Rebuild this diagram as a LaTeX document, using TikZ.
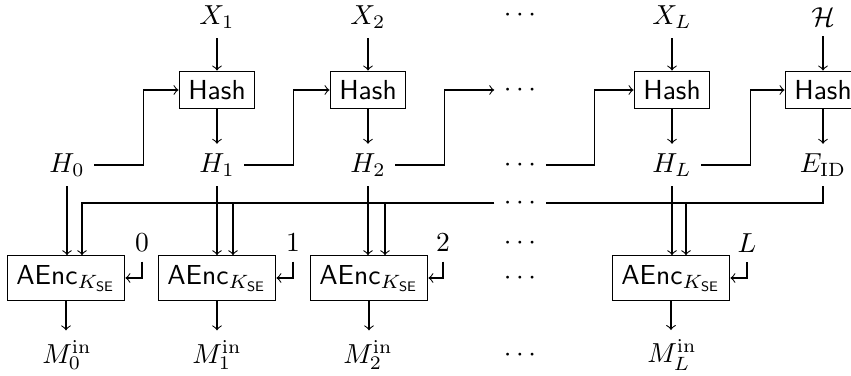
\documentclass[tikz,border=0pt]{standalone}
\usetikzlibrary{calc}
\begin{document}
\begin{tikzpicture}[x=0.3636pt,y=-0.3636pt,
  box/.style={draw,inner sep=3.33pt},
  lbl/.style={inner sep=3.33pt},
  arr/.style={->}]
\useasboundingbox (0,0) rectangle (851,376);
% top inputs
\node[lbl] (X1) at (217,17) {$X_1$};
\node[lbl] (X2) at (368,17) {$X_2$};
\node[inner sep=0pt] (dX) at (520,15) {$\cdots$};
\node[lbl] (XL) at (672,17) {$X_L$};
\node[lbl] (Hc) at (823,17) {$\mathcal{H}$};
% hash boxes
\node[box] (h1) at (217,90) {\textsf{Hash}};
\node[box] (h2) at (368,90) {\textsf{Hash}};
\node[lbl] (dh) at (520,90) {$\cdots$};
\node[box] (hL) at (672,90) {\textsf{Hash}};
\node[box] (hE) at (823,90) {\textsf{Hash}};
% H row
\node[lbl] (H0) at (67,165) {$H_0$};
\node[lbl] (H1) at (217,165) {$H_1$};
\node[lbl] (H2) at (368,165) {$H_2$};
\node[lbl] (dH) at (520,165) {$\cdots$};
\node[lbl] (HL) at (672,165) {$H_L$};
\node[lbl] (E) at (823,165) {$E_{\mathrm{ID}}$};
% bus dots
\node[lbl] (dB) at (520,203) {$\cdots$};
% index labels
\node[lbl] (l0) at (142,243) {$0$};
\node[lbl] (l1) at (293,243) {$1$};
\node[lbl] (l2) at (443,243) {$2$};
\node[lbl] (dl) at (520,243) {$\cdots$};
\node[lbl] (lL) at (747,243) {$L$};
% AEnc boxes
\node[box] (a0) at (66,278) {$\mathsf{AEnc}_{K_{\mathsf{SE}}}$};
\node[box] (a1) at (217,278) {$\mathsf{AEnc}_{K_{\mathsf{SE}}}$};
\node[box] (a2) at (369,278) {$\mathsf{AEnc}_{K_{\mathsf{SE}}}$};
\node[lbl] (da) at (520,278) {$\cdots$};
\node[box] (aL) at (671,278) {$\mathsf{AEnc}_{K_{\mathsf{SE}}}$};
% outputs
\node[lbl] (m0) at (67,355) {$M_0^{\mathrm{in}}$};
\node[lbl] (m1) at (217,355) {$M_1^{\mathrm{in}}$};
\node[lbl] (m2) at (368,355) {$M_2^{\mathrm{in}}$};
\node[lbl] (dm) at (520,355) {$\cdots$};
\node[lbl] (mL) at (672,355) {$M_L^{\mathrm{in}}$};
% X -> Hash
\foreach \a/\b in {X1/h1,X2/h2,XL/hL,Hc/hE}
  \draw[arr] (\a) -- (\b);
% Hash -> H
\foreach \a/\b in {h1/H1,h2/H2,hL/HL,hE/E}
  \draw[arr] (\a) -- (\b);
% chaining
\foreach \a/\b in {H0/h1,H1/h2,H2/dh,dH/hL,HL/hE}
  \draw[arr] (\a.east) -- ++(49,0) |- (\b.west);
% H down to AEnc
\foreach \a/\b in {H0/a0,H1/a1,H2/a2,HL/aL}
  \draw[arr] (\a.south) -- (\a |- \b.north);
% bus
\coordinate (c0) at ($(a0.north)+(16,0)$);
\coordinate (c1) at ($(a1.north)+(16,0)$);
\coordinate (c2) at ($(a2.north)+(16,0)$);
\coordinate (cL) at ($(aL.north)+(15,0)$);
\draw (E.south) |- (dB.east);
\draw[arr] (dB.west) -| (c0);
\draw[arr] (c1 |- dB) -- (c1);
\draw[arr] (c2 |- dB) -- (c2);
\draw[arr] (E.south) |- (cL |- dB) -- (cL);
% index arrows
\foreach \a/\b in {l0/a0,l1/a1,l2/a2,lL/aL}
  \draw[arr] (\a.south) |- (\b.east);
% AEnc -> M
\foreach \a/\b in {a0/m0,a1/m1,a2/m2,aL/mL}
  \draw[arr] (\a.south) -- (\a.south |- \b.north);
\end{tikzpicture}
\end{document}
